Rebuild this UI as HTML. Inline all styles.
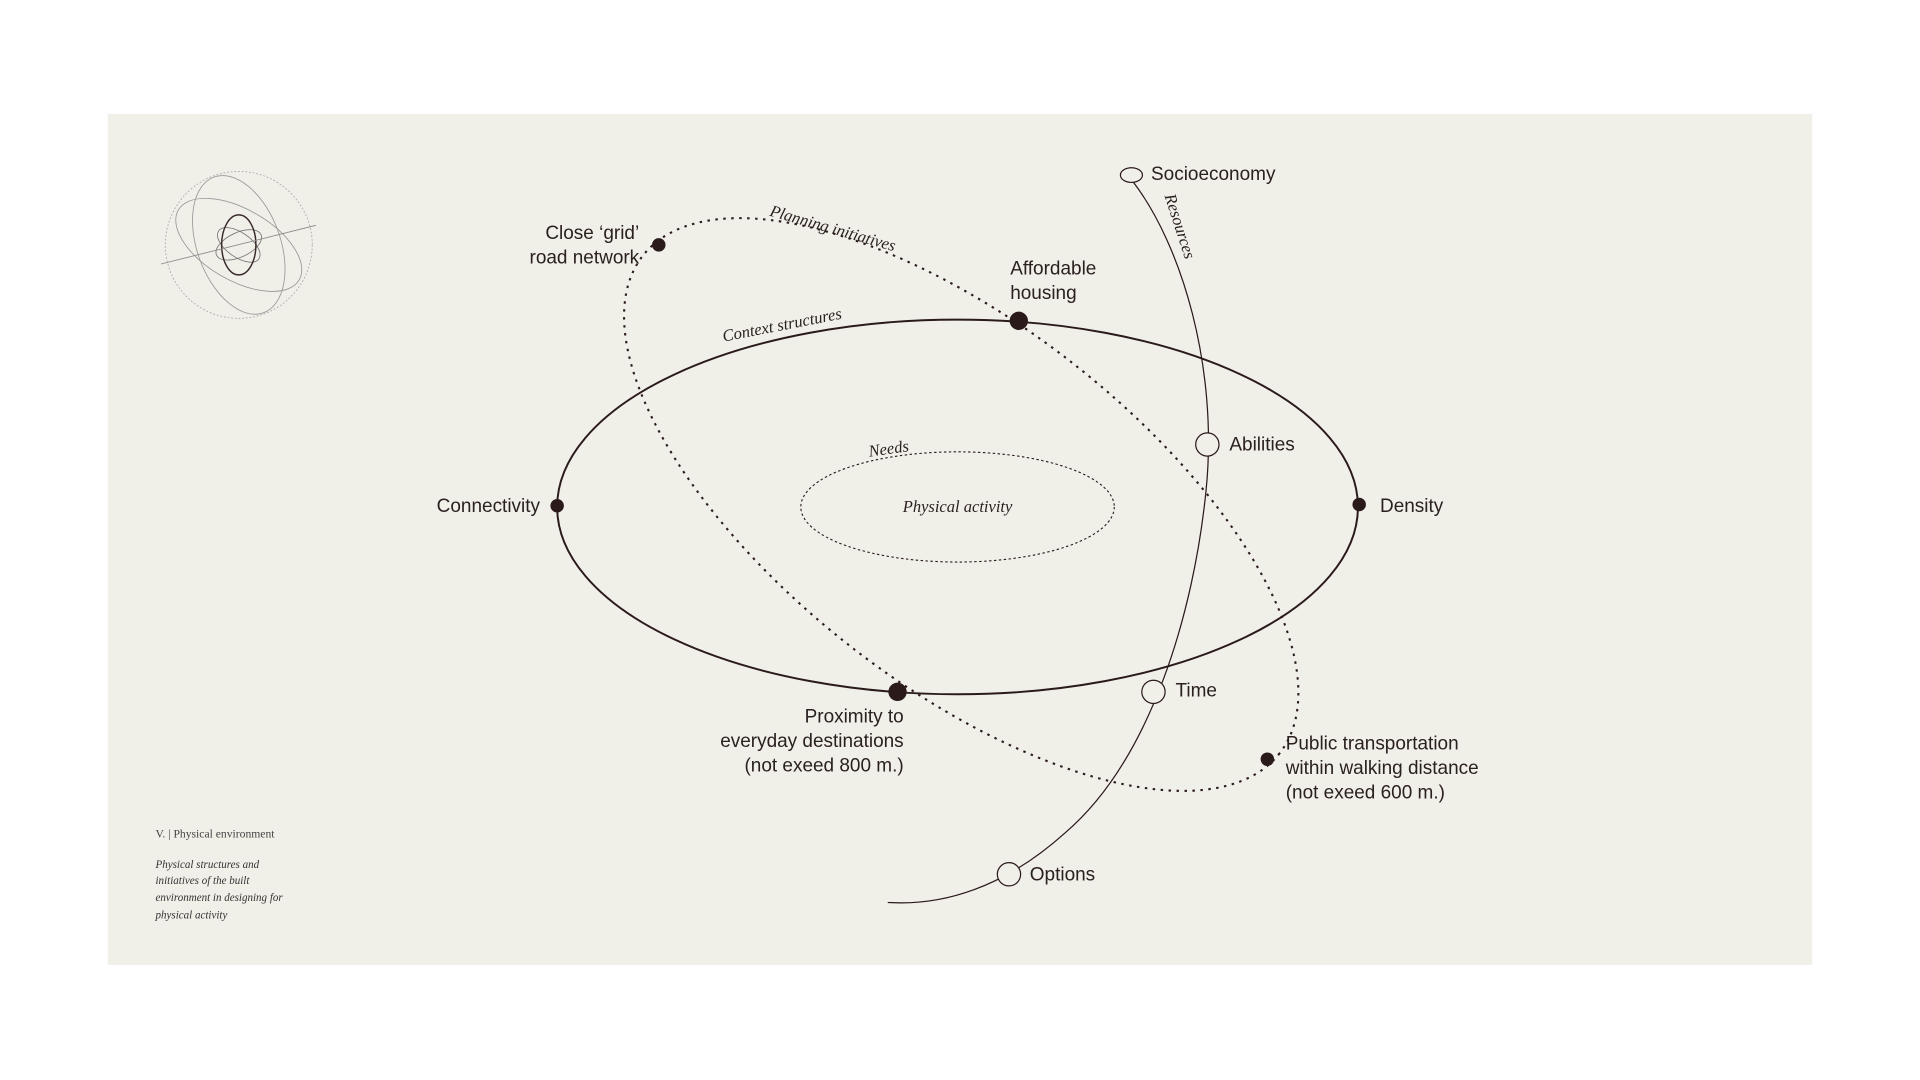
<!DOCTYPE html>
<html><head><meta charset="utf-8"><style>
html,body{margin:0;padding:0;background:#fff;width:1920px;height:1080px;overflow:hidden}
svg{display:block}
.s{font-family:"Liberation Sans",sans-serif;font-size:15.5px;fill:#2a2020}
.i{font-family:"Liberation Serif",serif;font-style:italic;font-size:13.5px;fill:#2a2020}
</style></head><body>
<svg width="1920" height="1080" viewBox="0 0 1568 882" preserveAspectRatio="none" xmlns="http://www.w3.org/2000/svg">
<rect x="0" y="0" width="1568" height="882" fill="#fff"/>
<rect x="88" y="93" width="1392" height="695" fill="#f0efe8"/>
<!-- icon -->
<g fill="none" stroke-width="0.7">
<circle cx="195" cy="200" r="60" stroke="#aaa" stroke-dasharray="1.5 1.5"/>
<ellipse cx="195" cy="200" rx="57" ry="29" transform="rotate(30 195 200)" stroke="#999"/>
<ellipse cx="195" cy="200" rx="34" ry="59" transform="rotate(-20 195 200)" stroke="#999"/>
<ellipse cx="195" cy="200" rx="20" ry="10" transform="rotate(-25 195 200)" stroke="#777"/>
<ellipse cx="195" cy="200" rx="20" ry="10" transform="rotate(35 195 200)" stroke="#777"/>
<ellipse cx="195" cy="200" rx="14" ry="24.5" stroke="#3a2a2a" stroke-width="1.2"/>
<line x1="131.5" y1="215.6" x2="258" y2="184" stroke="#888"/>
</g>
<!-- main ellipse -->
<ellipse cx="782" cy="414" rx="327" ry="153" fill="none" stroke="#2a1a1a" stroke-width="1.6"/>
<ellipse cx="782" cy="414" rx="128" ry="45" fill="none" stroke="#2a1a1a" stroke-width="0.9" stroke-dasharray="2 2"/>
<ellipse cx="785" cy="412" rx="330" ry="147" transform="rotate(38 785 412)" fill="none" stroke="#2a1a1a" stroke-width="1.7" stroke-dasharray="2 4.5"/>
<path d="M925,148 C965,200 995,300 985,400 C975,500 940,620 870,680 C820,725 770,740 725,737" fill="none" stroke="#2a1a1a" stroke-width="1"/>
<ellipse cx="924" cy="143" rx="9" ry="6" fill="#f0efe8" stroke="#2a1a1a" stroke-width="1"/>
<g fill="#f0efe8" stroke="#2a1a1a" stroke-width="1">
<circle cx="986" cy="363" r="9.5"/><circle cx="942" cy="565" r="9.5"/><circle cx="824" cy="714" r="9.5"/>
</g>
<g fill="#2a1a1a">
<circle cx="455" cy="413" r="5.5"/><circle cx="1110" cy="412" r="5.5"/>
<circle cx="832" cy="262" r="7.5"/><circle cx="733" cy="565" r="7.5"/>
<circle cx="538" cy="200" r="5.5"/><circle cx="1035" cy="620" r="5.5"/>
</g>
<!-- labels -->
<text class="s" x="940" y="147">Socioeconomy</text>
<text class="s" x="522" y="195" text-anchor="end">Close ‘grid’</text>
<text class="s" x="522" y="215" text-anchor="end">road network</text>
<text class="s" x="825" y="224">Affordable</text>
<text class="s" x="825" y="244">housing</text>
<text class="s" x="441" y="418" text-anchor="end">Connectivity</text>
<text class="s" x="1127" y="418">Density</text>
<text class="s" x="1004" y="368">Abilities</text>
<text class="s" x="960" y="569">Time</text>
<text class="s" x="841" y="719">Options</text>
<text class="s" x="738" y="590" text-anchor="end">Proximity to</text>
<text class="s" x="738" y="610" text-anchor="end">everyday destinations</text>
<text class="s" x="738" y="630" text-anchor="end">(not exeed 800 m.)</text>
<text class="s" x="1050" y="612">Public transportation</text>
<text class="s" x="1050" y="632">within walking distance</text>
<text class="s" x="1050" y="652">(not exeed 600 m.)</text>
<text class="i" transform="translate(628,176) rotate(16)">Planning initiatives</text>
<text class="i" transform="translate(591,279) rotate(-11)">Context structures</text>
<text class="i" transform="translate(710,373) rotate(-8)">Needs</text>
<text class="i" x="782" y="418" text-anchor="middle">Physical activity</text>
<text class="i" transform="translate(951,160) rotate(72)">Resources</text>
<text x="127" y="684" font-family="Liberation Serif,serif" font-size="9.5" fill="#444">V. | Physical environment</text>
<g font-family="Liberation Serif,serif" font-style="italic" font-size="9" fill="#333">
<text x="127" y="709">Physical structures and</text>
<text x="127" y="722">initiatives of  the built</text>
<text x="127" y="736">environment in designing for</text>
<text x="127" y="750">physical activity</text>
</g>
</svg>
</body></html>
